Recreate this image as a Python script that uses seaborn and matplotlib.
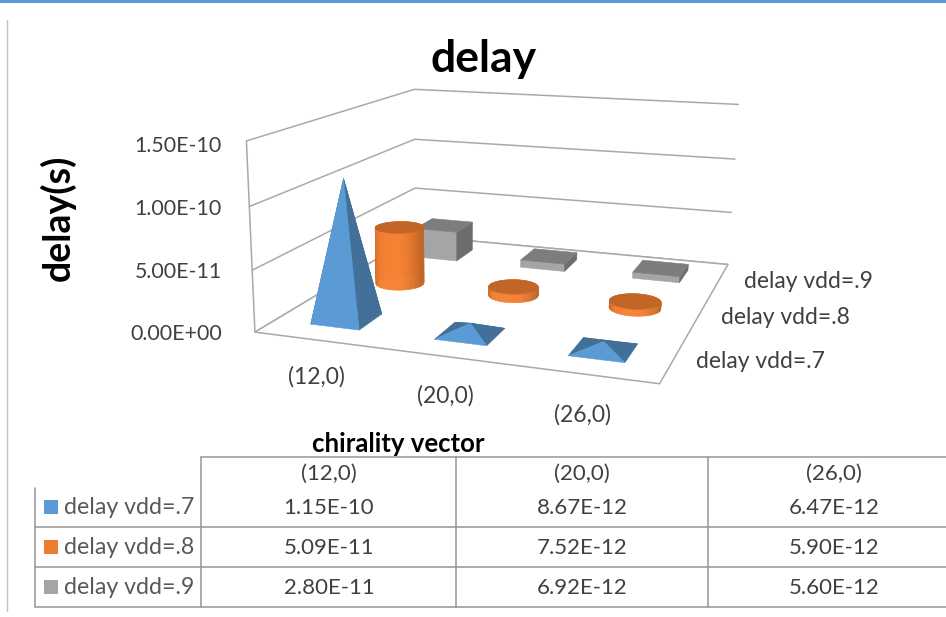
import numpy as np
import pandas as pd
import matplotlib
matplotlib.use("Agg")
import matplotlib.pyplot as plt
import seaborn as sns

categories = ["(12,0)", "(20,0)", "(26,0)"]
series_names = ["delay vdd=.7", "delay vdd=.8", "delay vdd=.9"]
delay_vdd7 = [1.15e-10, 8.67e-12, 6.47e-12]
delay_vdd8 = [5.09e-11, 7.52e-12, 5.90e-12]
delay_vdd9 = [2.80e-11, 6.92e-12, 5.60e-12]
table_vdd7 = ["1.15E-10", "8.67E-12", "6.47E-12"]
table_vdd8 = ["5.09E-11", "7.52E-12", "5.90E-12"]
table_vdd9 = ["2.80E-11", "6.92E-12", "5.60E-12"]
z_ticks = [0, 5e-11, 1e-10, 1.5e-10]
z_tick_labels = ["0.00E+00", "5.00E-11", "1.00E-10", "1.50E-10"]

sns.set_theme(style="white")
plt.rcParams["font.family"] = ["Lato", "DejaVu Sans"]
palette = sns.color_palette(["#5B9BD5", "#ED7D31", "#A5A5A5"])
GRID = "#a9a9a9"
TABLE_LINE = "#969696"
TEXT = "#404040"
ZMAX = z_ticks[-1]

df = pd.DataFrame({
    "category": categories * 3,
    "series": np.repeat(series_names, 3),
    "delay": delay_vdd7 + delay_vdd8 + delay_vdd9,
})

# camera fitted on the corners of the chart box (box units -> figure pixels)
box = [(0, 0, 0), (1, 0, 0), (1, 1, 0), (0, 1, 0), (0, 0, 1), (0, 1, 1), (1, 1, 1)]
pix = [(255, 330), (660, 385), (728, 263), (415, 238), (246, 142), (415, 88), (738, 105)]


def fit_camera(box, pix):
    rows = []
    for (x, y, z), (u, v) in zip(box, pix):
        u, v = u / 1000, v / 1000
        rows.append([x, y, z, 1, 0, 0, 0, 0, -u * x, -u * y, -u * z, -u])
        rows.append([0, 0, 0, 0, x, y, z, 1, -v * x, -v * y, -v * z, -v])
    return np.linalg.svd(np.array(rows))[2][-1].reshape(3, 4)


CAM = fit_camera(box, pix)


def project(x, y, z):
    # x, y in category / series units, z in seconds
    h = CAM @ np.array([x / 3, y / 3, z / ZMAX, 1.0])
    return h[0] / h[2] * 1000, h[1] / h[2] * 1000


def shade(color, f):
    return tuple(min(1, c * f) for c in color)


def face(ax, pts, color, z=3):
    xy = [project(*p) for p in pts]
    ax.fill(*zip(*xy), color=color, lw=0.4, zorder=z)


def pyramid(ax, x, y, h, color, hw=0.2):
    c = [(x - hw, y - hw, 0), (x + hw, y - hw, 0), (x + hw, y + hw, 0), (x - hw, y + hw, 0)]
    top = (x, y, h)
    face(ax, [c[2], c[3], top], shade(color, 0.62))
    face(ax, [c[3], c[0], top], shade(color, 0.72))
    face(ax, [c[1], c[2], top], shade(color, 0.72))
    face(ax, [c[0], c[1], top], color)


def cylinder(ax, x, y, h, color, r=0.2):
    th = np.linspace(0, 2 * np.pi, 73)
    cx, cy = x + r * np.cos(th), y + r * np.sin(th)
    order = np.argsort(-np.sin(th[:-1]))
    for i in order:
        f = 1.04 - 0.22 * abs(np.cos(th[i])) ** 3
        face(ax, [(cx[i], cy[i], 0), (cx[i + 1], cy[i + 1], 0),
                  (cx[i + 1], cy[i + 1], h), (cx[i], cy[i], h)], shade(color, f))
    face(ax, [(a, b, h) for a, b in zip(cx, cy)], shade(color, 0.82))


def cuboid(ax, x, y, h, color, hw=0.2):
    x0, x1, y0, y1 = x - hw, x + hw, y - hw, y + hw
    face(ax, [(x0, y0, 0), (x1, y0, 0), (x1, y0, h), (x0, y0, h)], color)
    face(ax, [(x1, y0, 0), (x1, y1, 0), (x1, y1, h), (x1, y0, h)], shade(color, 0.66))
    face(ax, [(x0, y0, h), (x1, y0, h), (x1, y1, h), (x0, y1, h)], shade(color, 0.76))


fig = plt.figure(figsize=(9.46, 6.17), dpi=100)
ax = fig.add_axes([0, 0, 1, 1])
ax.set_xlim(0, 946)
ax.set_ylim(617, 0)
ax.axis("off")

# page frame around the pasted chart
ax.plot([0, 946], [1, 1], color="#5B9BD5", lw=2.2)
ax.plot([7, 7], [20, 611], color="#c4c4c4", lw=1)

# walls and floor
for z in z_ticks:
    line = [project(0, 0, z), project(0, 3, z), project(3, 3, z)]
    ax.plot(*zip(*line), color=GRID, lw=1.1, zorder=1)
ax.plot(*zip(project(0, 0, 0), project(0, 0, ZMAX)), color=GRID, lw=1.1, zorder=1)
floor = [project(0, 0, 0), project(3, 0, 0), project(3, 3, 0), project(0, 3, 0)]
ax.fill(*zip(*floor), facecolor="white", edgecolor=GRID, lw=1.1, zorder=2)

# back row first so nearer marks cover it
painters = {series_names[0]: pyramid, series_names[1]: cylinder, series_names[2]: cuboid}
for j in [2, 1, 0]:
    rows = df[df["series"] == series_names[j]]
    for i, h in enumerate(rows["delay"]):
        painters[series_names[j]](ax, i + 0.5, j + 0.5, h, palette[j])

# chart text
ax.text(484, 59, "delay", fontsize=32, fontweight="bold", color="black", ha="center", va="center")
ax.text(58, 218, "delay(s)", fontsize=27, fontweight="bold", color="black",
        rotation=90, ha="center", va="center")
for z, lab, y in zip(z_ticks, z_tick_labels, [334, 272, 209, 146]):
    ax.text(222, y, lab, fontsize=15.4, color=TEXT, ha="right", va="center")
for lab, (x, y) in zip(categories, [(316, 377), (445, 396), (582, 415)]):
    ax.text(x, y, lab, fontsize=16.5, color=TEXT, ha="center", va="center")
for lab, (x, y) in zip(series_names, [(696, 361), (721, 317), (744, 281)]):
    ax.text(x, y, lab, fontsize=16.5, color=TEXT, ha="left", va="center")
ax.text(398, 444, "chirality vector", fontsize=18.5, fontweight="bold", color="black",
        ha="center", va="center")

# data table under the chart
row_y = [527, 567, 607]
for y in row_y:
    ax.plot([35, 946], [y, y], color=TABLE_LINE, lw=1.1)
ax.plot([201, 946], [457, 457], color=TABLE_LINE, lw=1.1)
ax.plot([35, 35], [488, 607], color=TABLE_LINE, lw=1.1)
for x in [201, 456, 708]:
    ax.plot([x, x], [457, 607], color=TABLE_LINE, lw=1.1)

col_x = [329, 582, 834]
for x, lab in zip(col_x, categories):
    ax.text(x, 474, lab, fontsize=16, color=TEXT, ha="center", va="center")
table_rows = [table_vdd7, table_vdd8, table_vdd9]
for y, name, vals, col in zip([508, 548, 588], series_names, table_rows, palette):
    ax.fill_between([44, 58], y - 8, y + 6, color=col, lw=0)
    ax.text(64, y, name, fontsize=16.7, color="#595959", ha="left", va="center")
    for x, v in zip(col_x, vals):
        ax.text(x, y, v, fontsize=16, color=TEXT, ha="center", va="center")

fig.savefig("out.png", dpi=100, facecolor="white")
